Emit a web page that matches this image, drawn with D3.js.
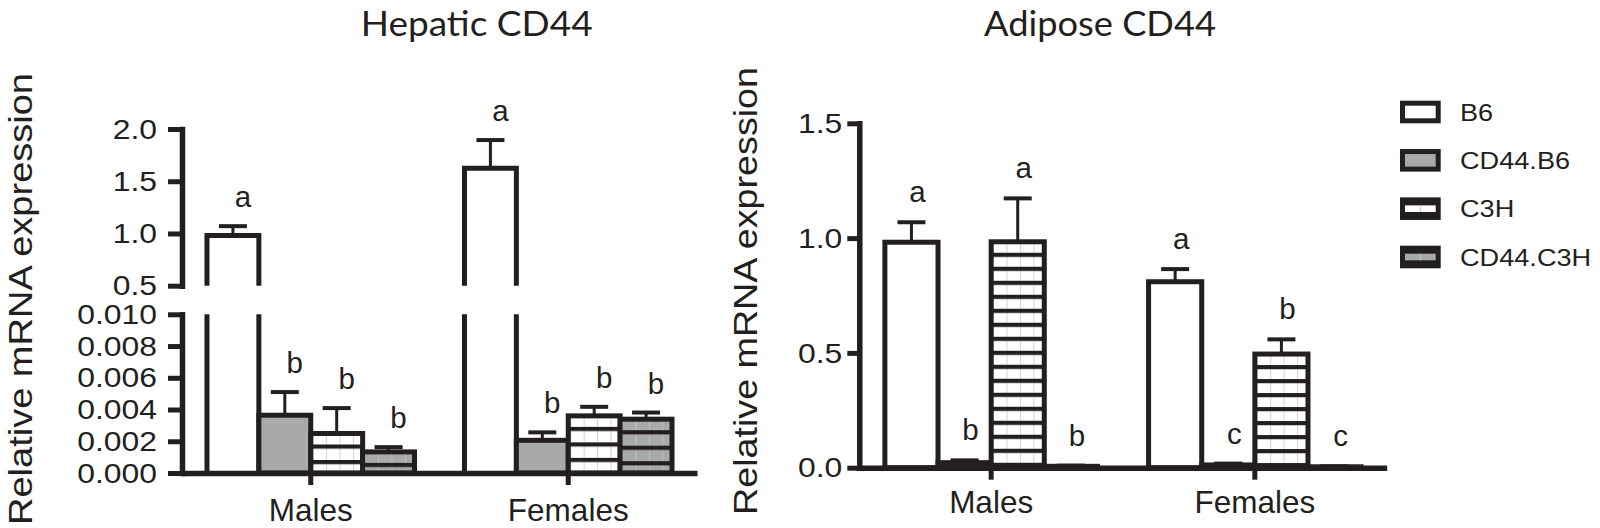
<!DOCTYPE html>
<html><head><meta charset="utf-8">
<script src="https://cdn.jsdelivr.net/npm/d3@7"></script>
<style>body{margin:0;background:#fff} svg{display:block}</style>
</head><body><svg id="c" width="1600" height="528"></svg>
<script>
// ---------------- data ----------------
const groups = ["Males", "Females"];
const series = ["B6", "CD44.B6", "C3H", "CD44.C3H"];

const hepaticMales        = [0.98, 0.00364, 0.00249, 0.00133];
const hepaticFemales      = [1.624, 0.00206, 0.0036, 0.00339];
const hepaticMalesErr     = [0.09, 0.00146, 0.0016, 0.0003];
const hepaticFemalesErr   = [0.27, 0.0005, 0.00057, 0.00042];
const hepaticMalesLetters   = ["a", "b", "b", "b"];
const hepaticFemalesLetters = ["a", "b", "b", "b"];

const adiposeMales        = [0.982, 0.022, 0.984, 0.006];
const adiposeFemales      = [0.81, 0.012, 0.495, 0.004];
const adiposeMalesErr     = [0.087, 0.01, 0.189, 0.003];
const adiposeFemalesErr   = [0.055, 0.006, 0.064, 0.002];
const adiposeMalesLetters   = ["a", "b", "a", "b"];
const adiposeFemalesLetters = ["a", "c", "b", "c"];

const hepaticUpperTicks = [0.5, 1.0, 1.5, 2.0];
const hepaticLowerTicks = [0, 0.002, 0.004, 0.006, 0.008, 0.010];
const adiposeTicks      = [0, 0.5, 1.0, 1.5];

const titles = ["Hepatic CD44", "Adipose CD44"];
const yLabel = "Relative mRNA expression";

// ---------------- style ----------------
const INK = "#231f20";
const GREY = "#a7a9ab";
const FONT = "'Liberation Sans', Arial, Helvetica, sans-serif";
const TFONT = "Lato, 'Open Sans', sans-serif";
const seriesBase = ["#ffffff", GREY, "#ffffff", GREY];
const seriesStriped = [false, false, true, true];
const BAR_W = 5, AXIS_W = 5.5;

const svg = d3.select("#c");
const defs = svg.append("defs");
let patId = 0;

function fillFor(si, x0, topPx, spacing) {
  const base = seriesBase[si];
  if (!seriesStriped[si]) return base;
  const id = "pat" + (patId++);
  const w = 13.4;
  const p = defs.append("pattern").attr("id", id)
    .attr("patternUnits", "userSpaceOnUse")
    .attr("x", x0 + 2).attr("y", topPx + 11)
    .attr("width", w).attr("height", spacing);
  p.append("rect").attr("width", w).attr("height", spacing).attr("fill", base);
  p.append("line").attr("x1", 0.5).attr("x2", 0.5).attr("y1", 0).attr("y2", spacing)
    .attr("stroke", si === 2 ? "#d4d4d4" : "#bdbfc1").attr("stroke-width", 1);
  p.append("rect").attr("y", 0).attr("width", w).attr("height", 4.2).attr("fill", INK);
  return `url(#${id})`;
}

function stretch(sel, s) {
  sel.each(function () {
    const t = d3.select(this);
    const x = +t.attr("x") || 0;
    t.attr("x", x / s).attr("transform", `scale(${s},1)`);
  });
}

function styleAxis(g, fs, s) {
  g.selectAll(".domain").attr("stroke", INK).attr("stroke-width", AXIS_W).attr("stroke-linecap", "square");
  g.selectAll(".tick line").attr("stroke", INK).attr("stroke-width", 5);
  g.selectAll(".tick text").attr("fill", INK).attr("font-family", FONT).attr("font-size", fs);
  if (s) stretch(g.selectAll(".tick text"), s);
}

function innerBand(outer) {
  const frac = 0.806;
  const p = (4 / frac - 4) / 2;
  return d3.scaleBand().domain(series).range([0, outer.bandwidth()]).paddingInner(0).paddingOuter(p);
}

function errorBar(g, cx, yBase, yCap) {
  g.append("line").attr("x1", cx).attr("x2", cx).attr("y1", yBase).attr("y2", yCap)
    .attr("stroke", INK).attr("stroke-width", 3);
  g.append("line").attr("x1", cx - 14).attr("x2", cx + 14).attr("y1", yCap).attr("y2", yCap)
    .attr("stroke", INK).attr("stroke-width", 4);
}

function letter(g, x, y, txt) {
  g.append("text").attr("x", x).attr("y", y).attr("text-anchor", "middle")
    .attr("font-family", FONT).attr("font-size", 29.5).attr("fill", INK).text(txt);
}

function title(g, x, txt) {
  g.append("text").attr("x", x).attr("y", 35.5).attr("text-anchor", "middle")
    .attr("font-family", TFONT).attr("font-size", 35)
    .attr("textLength", 232).attr("lengthAdjust", "spacingAndGlyphs")
    .attr("fill", INK).text(txt);
}

// ---------------- Hepatic panel (broken axis) ----------------
{
  const g = svg.append("g");
  const x = d3.scaleBand().domain(groups).range([182, 697]);
  const xi = innerBand(x);
  const yUp = d3.scaleLinear().domain([0.5, 2.0]).range([285.7, 129]);
  const yLo = d3.scaleLinear().domain([0, 0.010]).range([473, 314.3]);
  const vals = { Males: hepaticMales, Females: hepaticFemales };
  const errs = { Males: hepaticMalesErr, Females: hepaticFemalesErr };
  const lets = { Males: hepaticMalesLetters, Females: hepaticFemalesLetters };
  const loMax = yLo.domain()[1];
  const bars = g.append("g"), errG = g.append("g"), letG = g.append("g");

  groups.forEach(gr => {
    series.forEach((s, si) => {
      const v = vals[gr][si], e = errs[gr][si];
      const x0 = x(gr) + xi(s), x1 = x0 + xi.bandwidth(), cx = (x0 + x1) / 2;
      let capY;
      if (v > loMax) {
        const yB = yUp(yUp.domain()[0]);
        bars.append("path")
          .attr("d", `M${x0},${yB}V${yUp(v)}H${x1}V${yB}`)
          .attr("fill", seriesBase[si]).attr("stroke", INK).attr("stroke-width", BAR_W);
        bars.append("rect").attr("x", x0).attr("width", x1 - x0)
          .attr("y", yLo(loMax)).attr("height", yLo(0) - yLo(loMax)).attr("fill", seriesBase[si]);
        bars.append("path")
          .attr("d", `M${x0},${yLo(loMax)}V${yLo(0)}M${x1},${yLo(loMax)}V${yLo(0)}`)
          .attr("fill", "none").attr("stroke", INK).attr("stroke-width", BAR_W);
        capY = yUp(v + e);
        errorBar(errG, cx, yUp(v), capY);
      } else {
        bars.append("rect").attr("x", x0).attr("width", x1 - x0)
          .attr("y", yLo(v)).attr("height", yLo(0) - yLo(v))
          .attr("fill", fillFor(si, x0, yLo(v), 15.5))
          .attr("stroke", INK).attr("stroke-width", BAR_W);
        capY = yLo(v + e);
        errorBar(errG, cx, yLo(v), capY);
      }
      letter(letG, cx + 10, capY - 19, lets[gr][si]);
    });
  });

  const a1 = g.append("g").attr("transform", `translate(182,0)`)
    .call(d3.axisLeft(yUp).tickValues(hepaticUpperTicks).tickFormat(d3.format(".1f"))
      .tickSize(14).tickPadding(11).tickSizeOuter(0));
  styleAxis(a1, 28.5, 1.12);
  const a2 = g.append("g").attr("transform", `translate(182,0)`)
    .call(d3.axisLeft(yLo).tickValues(hepaticLowerTicks).tickFormat(d3.format(".3f"))
      .tickSize(14).tickPadding(11).tickSizeOuter(0));
  styleAxis(a2, 28.5, 1.12);
  const ax = g.append("g").attr("transform", `translate(0,473)`)
    .call(d3.axisBottom(x).tickSize(12).tickPadding(13.5).tickSizeOuter(0));
  styleAxis(ax, 31.5);
  ax.selectAll(".domain").attr("stroke-linecap", "butt");

  g.append("text").attr("transform", "translate(31.7,299) rotate(-90)")
    .attr("text-anchor", "middle").attr("font-family", FONT).attr("font-size", 33)
    .attr("textLength", 452).attr("lengthAdjust", "spacingAndGlyphs")
    .attr("fill", INK).text(yLabel);
  title(g, 476.7, titles[0]);
}

// ---------------- Adipose panel ----------------
{
  const g = svg.append("g");
  const x = d3.scaleBand().domain(groups).range([859.3, 1386.7]);
  const xi = innerBand(x);
  const y = d3.scaleLinear().domain([0, 1.5]).range([467.7, 123.3]);
  const vals = { Males: adiposeMales, Females: adiposeFemales };
  const errs = { Males: adiposeMalesErr, Females: adiposeFemalesErr };
  const lets = { Males: adiposeMalesLetters, Females: adiposeFemalesLetters };
  const bars = g.append("g"), errG = g.append("g"), letG = g.append("g");

  groups.forEach(gr => {
    series.forEach((s, si) => {
      const v = vals[gr][si], e = errs[gr][si];
      const x0 = x(gr) + xi(s), x1 = x0 + xi.bandwidth(), cx = (x0 + x1) / 2;
      bars.append("rect").attr("x", x0).attr("width", x1 - x0)
        .attr("y", y(v)).attr("height", y(0) - y(v))
        .attr("fill", fillFor(si, x0, y(v), 14))
        .attr("stroke", INK).attr("stroke-width", BAR_W);
      const capY = y(v + e);
      errorBar(errG, cx, y(v), capY);
      letter(letG, cx + 6, capY - 20, lets[gr][si]);
    });
  });

  const a1 = g.append("g").attr("transform", `translate(859.3,0)`)
    .call(d3.axisLeft(y).tickValues(adiposeTicks).tickFormat(d3.format(".1f"))
      .tickSize(12).tickPadding(5).tickSizeOuter(0));
  styleAxis(a1, 28.5, 1.12);
  const ax = g.append("g").attr("transform", `translate(0,467.7)`)
    .call(d3.axisBottom(x).tickSize(12).tickPadding(10.5).tickSizeOuter(0));
  styleAxis(ax, 31.5);
  ax.selectAll(".domain").attr("stroke-linecap", "butt");

  g.append("text").attr("transform", "translate(757,291) rotate(-90)")
    .attr("text-anchor", "middle").attr("font-family", FONT).attr("font-size", 33)
    .attr("textLength", 448).attr("lengthAdjust", "spacingAndGlyphs")
    .attr("fill", INK).text(yLabel);
  title(g, 1100, titles[1]);

  // legend
  const leg = g.append("g");
  const ly = d3.scalePoint().domain(series).range([112, 257]);
  series.forEach((s, si) => {
    const cy = ly(s);
    const bx = 1400, bw = 40.7, bh = 22.6;
    const top = cy - bh / 2;
    leg.append("rect").attr("x", bx).attr("y", top).attr("width", bw).attr("height", bh).attr("fill", INK);
    const insetY = seriesStriped[si] ? 8 : 5;
    leg.append("rect").attr("x", bx + 5).attr("y", top + insetY)
      .attr("width", bw - 10).attr("height", bh - 2 * insetY).attr("fill", seriesBase[si]);
    if (seriesStriped[si]) {
      leg.append("line").attr("x1", bx + bw / 2).attr("x2", bx + bw / 2)
        .attr("y1", top + insetY).attr("y2", top + bh - insetY)
        .attr("stroke", "#c4c4c4").attr("stroke-width", 1);
    }
    const tg = leg.append("g").attr("transform", `translate(1460,${cy + 8.7})`);
    tg.append("text").attr("x", 0).attr("y", 0)
      .attr("font-family", FONT).attr("font-size", 23).attr("fill", INK)
      .attr("transform", "scale(1.18,1)").text(s);
  });
}
</script>
</body></html>
